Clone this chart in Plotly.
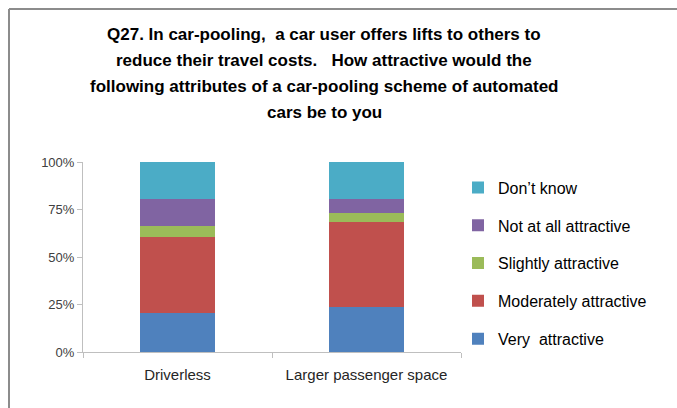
import plotly.graph_objects as go

# Survey question Q27 – attractiveness of car-pooling attributes (share of respondents)
categories = ["Driverless", "Larger passenger space"]
series_names = ["Very  attractive", "Moderately attractive", "Slightly attractive",
                "Not at all attractive", "Don\u2019t know"]
very_attractive = [0.206, 0.235]
moderately_attractive = [0.398, 0.449]
slightly_attractive = [0.059, 0.049]
not_at_all_attractive = [0.141, 0.071]
dont_know = [0.196, 0.196]
y_tick_values = [0, 0.25, 0.5, 0.75, 1.0]
y_tick_labels = ["0%", "25%", "50%", "75%", "100%"]
title_lines = [
    "Q27. In car-pooling,  a car user offers lifts to others to",
    "reduce their travel costs.   How attractive would the",
    "following attributes of a car-pooling scheme of automated",
    "cars be to you",
]

series_values = [very_attractive, moderately_attractive, slightly_attractive,
                 not_at_all_attractive, dont_know]
colors = ["#4F81BD", "#C0504D", "#9BBB59", "#8064A2", "#4BACC6"]

FONT = "Liberation Sans, Arial, sans-serif"

W, H = 677, 408
L, R, T, B = 83, 216, 162, 56
pw, ph = W - L - R, H - T - B

fig = go.Figure()
n = len(series_names)
for i, (name, vals) in enumerate(zip(series_names, series_values)):
    fig.add_trace(go.Bar(
        x=categories, y=vals, name=name,
        marker=dict(color=colors[i], line=dict(width=0)),
        legendgroup=f"g{i}", legendrank=n - i,
        hoverinfo="skip",
    ))

# title, centred over the chart
for k, line in enumerate(title_lines):
    y_px = 35 + k * 25.7
    fig.add_annotation(
        text=f"<b>{line}</b>", x=(324 - L) / pw, y=(T + ph - y_px) / ph,
        xref="paper", yref="paper", showarrow=False, xanchor="center", yanchor="middle",
        font=dict(family=FONT, size=17, color="#000000"),
    )

# chart-area frame (top and left edges)
fx0 = (9 - L) / pw
fy0 = (T + ph - 9) / ph
fig.add_shape(type="line", xref="paper", yref="paper", x0=fx0, x1=(W + 5 - L) / pw, y0=fy0, y1=fy0,
              line=dict(color="#8c8c8c", width=2))
fig.add_shape(type="line", xref="paper", yref="paper", x0=fx0, x1=fx0, y0=fy0, y1=(T + ph - H - 5) / ph,
              line=dict(color="#8c8c8c", width=2))

fig.update_layout(
    width=W, height=H,
    margin=dict(l=L, r=R, t=T, b=B),
    barmode="stack", bargap=0.6,
    plot_bgcolor="white", paper_bgcolor="white",
    showlegend=True,
    legend=dict(
        traceorder="grouped", tracegroupgap=14,
        x=(458 - L) / pw, xanchor="left", y=0.955, yanchor="top",
        font=dict(family=FONT, size=16, color="#000000"),
        itemwidth=30, bgcolor="rgba(0,0,0,0)", maxheight=400,
    ),
    xaxis=dict(
        showline=True, linecolor="#bfbfbf", linewidth=1,
        ticks="outside", tickson="boundaries", ticklen=5, tickcolor="#bfbfbf",
        tickfont=dict(family=FONT, size=15, color="#262626"),
        ticklabelstandoff=9,
        showgrid=False, fixedrange=True,
    ),
    yaxis=dict(
        range=[0, 1], tickvals=y_tick_values, ticktext=y_tick_labels,
        showline=True, linecolor="#bfbfbf", linewidth=1,
        ticks="outside", ticklen=5, tickcolor="#bfbfbf",
        tickfont=dict(family=FONT, size=13, color="#404040"),
        showgrid=False, zeroline=False, fixedrange=True,
    ),
)

fig.write_html("out.html", config={"displayModeBar": False})
